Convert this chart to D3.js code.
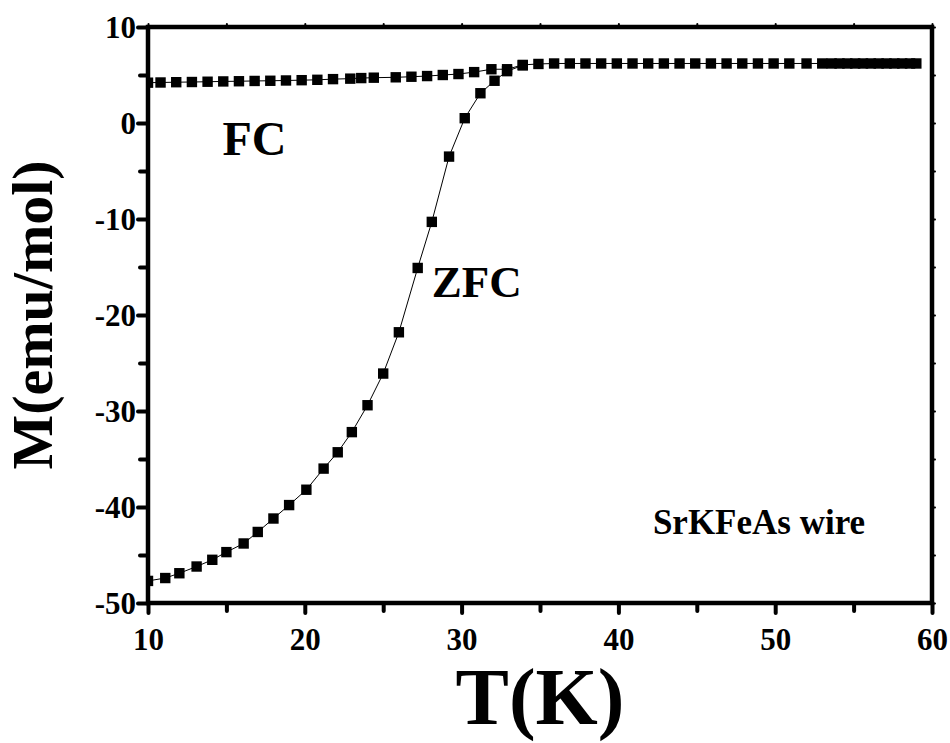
<!DOCTYPE html>
<html>
<head>
<meta charset="utf-8">
<script src="https://cdn.jsdelivr.net/npm/d3@7"></script>
</head>
<body style="margin:0; background:#fff">
<script>
// FC curve (field cooled)
var fcT = [10.0, 10.8, 11.8, 12.8, 13.8, 14.8, 15.8, 16.8, 17.8, 18.8, 19.8, 20.8, 21.8, 22.9, 23.6, 24.4,
           25.8, 26.8, 27.8, 28.8, 29.8, 30.8, 31.9, 32.9, 33.9, 34.9, 35.9, 36.9, 37.9, 38.9, 39.9, 40.9,
           41.9, 42.9, 43.9, 44.9, 45.9, 46.9, 47.9, 48.9, 49.9, 50.9, 52.0, 53.0, 53.6, 54.1, 54.6, 55.1,
           55.6, 56.1, 56.6, 57.1, 57.6, 58.1, 58.6, 59.0];
var fcM = [4.2, 4.22, 4.25, 4.27, 4.3, 4.33, 4.35, 4.38, 4.4, 4.43, 4.46, 4.5, 4.57, 4.62, 4.68, 4.72,
           4.76, 4.82, 4.89, 5.0, 5.1, 5.3, 5.6, 5.6, 6.05, 6.15, 6.2, 6.2, 6.2, 6.2, 6.2, 6.2,
           6.2, 6.2, 6.2, 6.2, 6.2, 6.2, 6.2, 6.2, 6.2, 6.2, 6.2, 6.2, 6.2, 6.2, 6.2, 6.2,
           6.2, 6.2, 6.2, 6.2, 6.2, 6.2, 6.2, 6.2];

// ZFC curve (zero field cooled)
var zfcT = [10.0, 11.1, 12.0, 13.1, 14.1, 15.0, 16.1, 17.0, 18.0, 19.0, 20.1, 21.2, 22.1, 23.0, 24.0,
            25.0, 26.0, 27.2, 28.1, 29.2, 30.2, 31.2, 32.1, 32.9, 33.9];
var zfcM = [-47.7, -47.4, -46.9, -46.2, -45.5, -44.7, -43.8, -42.6, -41.2, -39.8, -38.2, -36.0, -34.3,
            -32.2, -29.4, -26.1, -21.8, -15.1, -10.3, -3.5, 0.5, 3.1, 4.4, 5.4, 6.0];

var xTicks = [10, 20, 30, 40, 50, 60];
var yTicks = [10, 0, -10, -20, -30, -40, -50];
var xMinor = [15, 25, 35, 45, 55];
var yMinor = [5, -5, -15, -25, -35, -45];

var FONT = "'Liberation Serif', 'Times New Roman', serif";

var margin = {top: 27, right: 18, bottom: 140, left: 148},
    width = 950 - margin.left - margin.right,
    height = 743 - margin.top - margin.bottom;

var svg = d3.select("body").append("svg")
    .attr("width", 950)
    .attr("height", 743)
    .style("font-family", FONT);

var g = svg.append("g")
    .attr("transform", "translate(" + margin.left + "," + margin.top + ")");

var x = d3.scaleLinear().domain([10, 60]).range([0, width]),
    y = d3.scaleLinear().domain([-50, 10]).range([height, 0]);

g.append("clipPath").attr("id", "clip")
    .append("rect").attr("width", width).attr("height", height);

var plot = g.append("g").attr("clip-path", "url(#clip)");

var fc = fcT.map(function (t, i) { return {t: t, m: fcM[i]}; });
var zfc = zfcT.map(function (t, i) { return {t: t, m: zfcM[i]}; });

var line = d3.line()
    .x(function (d) { return x(d.t); })
    .y(function (d) { return y(d.m); });

[fc, zfc].forEach(function (data) {
    plot.append("path")
        .datum(data)
        .attr("fill", "none")
        .attr("stroke", "#000")
        .attr("stroke-width", 1)
        .attr("d", line);

    plot.selectAll(null)
        .data(data)
        .enter().append("rect")
        .attr("x", function (d) { return x(d.t) - 5.2; })
        .attr("y", function (d) { return y(d.m) - 5.2; })
        .attr("width", 10.4)
        .attr("height", 10.4)
        .attr("fill", "#000");
});

// axes
function styleAxis(sel) {
    sel.select(".domain").remove();
    sel.selectAll(".tick line").attr("stroke", "#000").attr("stroke-width", 4).attr("stroke-linecap", "round");
    sel.selectAll(".tick text")
        .style("font-family", FONT)
        .style("font-weight", "bold")
        .style("font-size", "31px")
        .attr("fill", "#000");
}

var fmt = function (d) { return String(d); };

var xAxis = g.append("g")
    .attr("transform", "translate(0," + height + ")")
    .call(d3.axisBottom(x).tickValues(xTicks).tickSize(10).tickPadding(12).tickFormat(fmt));
styleAxis(xAxis);
xAxis.selectAll(".tick text").attr("dy", "0.8em");

g.append("g")
    .attr("transform", "translate(0," + height + ")")
    .call(d3.axisBottom(x).tickValues(xMinor).tickSize(8).tickFormat(""))
    .call(styleAxis);

var yAxis = g.append("g")
    .call(d3.axisLeft(y).tickValues(yTicks).tickSize(10).tickPadding(2).tickFormat(fmt));
styleAxis(yAxis);
yAxis.selectAll(".tick text").attr("dy", "0.34em");

g.append("g")
    .call(d3.axisLeft(y).tickValues(yMinor).tickSize(8).tickFormat(""))
    .call(styleAxis);

// top and right small ticks
g.append("g")
    .call(d3.axisTop(x).tickValues(xTicks.concat(xMinor)).tickSize(3).tickFormat(""))
    .call(styleAxis)
    .selectAll(".tick line").attr("stroke-width", 2);

g.append("g")
    .attr("transform", "translate(" + width + ",0)")
    .call(d3.axisRight(y).tickValues(yTicks.concat(yMinor)).tickSize(3).tickFormat(""))
    .call(styleAxis)
    .selectAll(".tick line").attr("stroke-width", 2);

// frame
g.append("rect")
    .attr("width", width)
    .attr("height", height)
    .attr("fill", "none")
    .attr("stroke", "#000")
    .attr("stroke-width", 4.5);

function label(sel, size) {
    return sel.style("font-family", FONT).style("font-weight", "bold").style("font-size", size + "px").attr("fill", "#000");
}

// titles
svg.append("text")
    .attr("x", margin.left + width / 2)
    .attr("y", 724)
    .attr("text-anchor", "middle")
    .call(label, 80)
    .text("T(K)");

svg.append("text")
    .attr("transform", "translate(52," + (margin.top + height / 2) + ") rotate(-90)")
    .attr("text-anchor", "middle")
    .call(label, 58)
    .text("M(emu/mol)");

// annotations
g.append("text")
    .attr("x", x(14.75))
    .attr("y", y(-3.3))
    .call(label, 48)
    .text("FC");

g.append("text")
    .attr("x", x(28.1))
    .attr("y", y(-18.1))
    .call(label, 45)
    .text("ZFC");

g.append("text")
    .attr("x", x(42.2))
    .attr("y", y(-42.8))
    .call(label, 35)
    .text("SrKFeAs wire");
</script>
</body>
</html>
